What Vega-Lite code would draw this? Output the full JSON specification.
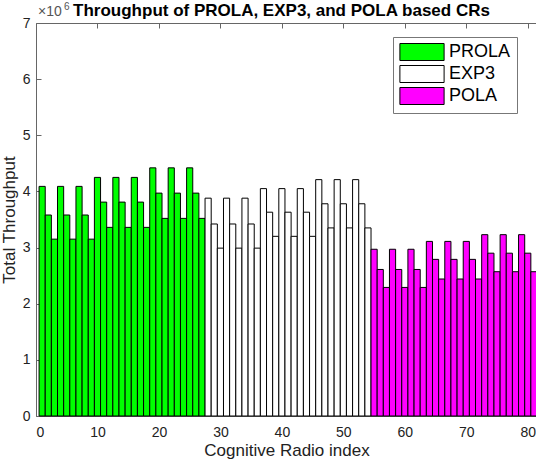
{
  "$schema": "https://vega.github.io/schema/vega-lite/v6.json",
  "width": 501,
  "height": 393,
  "autosize": "none",
  "padding": {"left": 36, "top": 23, "right": 0, "bottom": 46},
  "background": "white",
  "title": {
    "text": "Throughput of PROLA, EXP3, and POLA based CRs",
    "font": "Liberation Sans",
    "fontSize": 17,
    "fontWeight": "bold",
    "color": "#000",
    "anchor": "middle",
    "baseline": "bottom",
    "offset": 0,
    "dx": -5,
    "dy": 35
  },
  "config": {
    "view": {"stroke": "#666", "strokeWidth": 1},
    "axis": {
      "grid": false,
      "domain": false,
      "tickColor": "#666",
      "tickSize": -5,
      "labelFont": "Liberation Sans",
      "labelFontSize": 14,
      "labelColor": "#222",
      "titleFont": "Liberation Sans",
      "titleFontSize": 17,
      "titleFontWeight": "normal",
      "titleColor": "#222"
    }
  },
  "data": {
    "values": [
      {"i": 1, "m": "PROLA", "v": 4090000}, {"i": 2, "m": "PROLA", "v": 3580000}, {"i": 3, "m": "PROLA", "v": 3150000},
      {"i": 4, "m": "PROLA", "v": 4090000}, {"i": 5, "m": "PROLA", "v": 3580000}, {"i": 6, "m": "PROLA", "v": 3150000},
      {"i": 7, "m": "PROLA", "v": 4090000}, {"i": 8, "m": "PROLA", "v": 3580000}, {"i": 9, "m": "PROLA", "v": 3150000},
      {"i": 10, "m": "PROLA", "v": 4250000}, {"i": 11, "m": "PROLA", "v": 3810000}, {"i": 12, "m": "PROLA", "v": 3360000},
      {"i": 13, "m": "PROLA", "v": 4250000}, {"i": 14, "m": "PROLA", "v": 3810000}, {"i": 15, "m": "PROLA", "v": 3360000},
      {"i": 16, "m": "PROLA", "v": 4250000}, {"i": 17, "m": "PROLA", "v": 3810000}, {"i": 18, "m": "PROLA", "v": 3360000},
      {"i": 19, "m": "PROLA", "v": 4420000}, {"i": 20, "m": "PROLA", "v": 3970000}, {"i": 21, "m": "PROLA", "v": 3520000},
      {"i": 22, "m": "PROLA", "v": 4420000}, {"i": 23, "m": "PROLA", "v": 3970000}, {"i": 24, "m": "PROLA", "v": 3520000},
      {"i": 25, "m": "PROLA", "v": 4420000}, {"i": 26, "m": "PROLA", "v": 3970000}, {"i": 27, "m": "PROLA", "v": 3520000},
      {"i": 28, "m": "EXP3", "v": 3880000}, {"i": 29, "m": "EXP3", "v": 3420000}, {"i": 30, "m": "EXP3", "v": 2990000},
      {"i": 31, "m": "EXP3", "v": 3880000}, {"i": 32, "m": "EXP3", "v": 3420000}, {"i": 33, "m": "EXP3", "v": 2990000},
      {"i": 34, "m": "EXP3", "v": 3880000}, {"i": 35, "m": "EXP3", "v": 3420000}, {"i": 36, "m": "EXP3", "v": 2990000},
      {"i": 37, "m": "EXP3", "v": 4050000}, {"i": 38, "m": "EXP3", "v": 3630000}, {"i": 39, "m": "EXP3", "v": 3200000},
      {"i": 40, "m": "EXP3", "v": 4050000}, {"i": 41, "m": "EXP3", "v": 3630000}, {"i": 42, "m": "EXP3", "v": 3200000},
      {"i": 43, "m": "EXP3", "v": 4050000}, {"i": 44, "m": "EXP3", "v": 3630000}, {"i": 45, "m": "EXP3", "v": 3200000},
      {"i": 46, "m": "EXP3", "v": 4210000}, {"i": 47, "m": "EXP3", "v": 3780000}, {"i": 48, "m": "EXP3", "v": 3350000},
      {"i": 49, "m": "EXP3", "v": 4210000}, {"i": 50, "m": "EXP3", "v": 3780000}, {"i": 51, "m": "EXP3", "v": 3350000},
      {"i": 52, "m": "EXP3", "v": 4210000}, {"i": 53, "m": "EXP3", "v": 3780000}, {"i": 54, "m": "EXP3", "v": 3350000},
      {"i": 55, "m": "POLA", "v": 2970000}, {"i": 56, "m": "POLA", "v": 2610000}, {"i": 57, "m": "POLA", "v": 2290000},
      {"i": 58, "m": "POLA", "v": 2970000}, {"i": 59, "m": "POLA", "v": 2610000}, {"i": 60, "m": "POLA", "v": 2290000},
      {"i": 61, "m": "POLA", "v": 2970000}, {"i": 62, "m": "POLA", "v": 2610000}, {"i": 63, "m": "POLA", "v": 2290000},
      {"i": 64, "m": "POLA", "v": 3110000}, {"i": 65, "m": "POLA", "v": 2790000}, {"i": 66, "m": "POLA", "v": 2440000},
      {"i": 67, "m": "POLA", "v": 3110000}, {"i": 68, "m": "POLA", "v": 2790000}, {"i": 69, "m": "POLA", "v": 2440000},
      {"i": 70, "m": "POLA", "v": 3110000}, {"i": 71, "m": "POLA", "v": 2790000}, {"i": 72, "m": "POLA", "v": 2440000},
      {"i": 73, "m": "POLA", "v": 3230000}, {"i": 74, "m": "POLA", "v": 2900000}, {"i": 75, "m": "POLA", "v": 2570000},
      {"i": 76, "m": "POLA", "v": 3230000}, {"i": 77, "m": "POLA", "v": 2900000}, {"i": 78, "m": "POLA", "v": 2570000},
      {"i": 79, "m": "POLA", "v": 3230000}, {"i": 80, "m": "POLA", "v": 2900000}, {"i": 81, "m": "POLA", "v": 2570000}
    ]
  },
  "layer": [
    {
      "mark": {"type": "bar", "width": 6.15, "stroke": "#000", "strokeWidth": 1},
      "encoding": {
        "x": {
          "field": "i",
          "type": "quantitative",
          "scale": {"domain": [0, 81.5], "nice": false, "zero": false, "padding": 0},
          "axis": {
            "orient": "bottom",
            "values": [0, 10, 20, 30, 40, 50, 60, 70, 80],
            "labelPadding": 14,
            "title": "Cognitive Radio index",
            "titlePadding": 3
          }
        },
        "y": {
          "field": "v",
          "type": "quantitative",
          "scale": {"domain": [0, 7000000], "nice": false, "padding": 0},
          "axis": {
            "values": [0, 1000000, 2000000, 3000000, 4000000, 5000000, 6000000, 7000000],
            "labelExpr": "datum.value / 1000000",
            "labelPadding": 11,
            "title": "Total Throughput",
            "titlePadding": 4
          }
        },
        "fill": {
          "field": "m",
          "type": "nominal",
          "scale": {"domain": ["PROLA", "EXP3", "POLA"], "range": ["#00ff00", "#ffffff", "#ff00ff"]},
          "legend": {
            "title": null,
            "orient": "none",
            "legendX": 357,
            "legendY": 14,
            "fillColor": "white",
            "strokeColor": "#777",
            "padding": 6,
            "rowPadding": 0,
            "symbolType": "M-2.6,-1H2.6V1H-2.6Z",
            "symbolSize": 289,
            "symbolOffset": 14,
            "symbolStrokeColor": "#000",
            "symbolStrokeWidth": 1,
            "symbolOpacity": 1,
            "labelFont": "Liberation Sans",
            "labelFontSize": 18,
            "labelColor": "#000",
            "labelOffset": 18
          }
        }
      }
    },
    {
      "data": {"values": [{"t": "×10"}]},
      "mark": {"type": "text", "align": "left", "baseline": "bottom", "dx": 2, "dy": -4, "font": "Liberation Sans", "fontSize": 14, "color": "#555"},
      "encoding": {
        "text": {"field": "t"},
        "x": {
          "datum": 0,
          "type": "quantitative",
          "axis": {
            "orient": "top",
            "values": [0, 10, 20, 30, 40, 50, 60, 70, 80],
            "labels": false,
            "title": null
          }
        },
        "y": {"datum": 7000000, "type": "quantitative"}
      }
    },
    {
      "data": {"values": [{"t": "6"}]},
      "mark": {"type": "text", "align": "left", "baseline": "bottom", "dx": 28, "dy": -11, "font": "Liberation Sans", "fontSize": 10, "color": "#555"},
      "encoding": {
        "text": {"field": "t"},
        "x": {"datum": 0, "type": "quantitative", "axis": null},
        "y": {"datum": 7000000, "type": "quantitative"}
      }
    }
  ],
  "resolve": {"axis": {"x": "independent"}}
}
